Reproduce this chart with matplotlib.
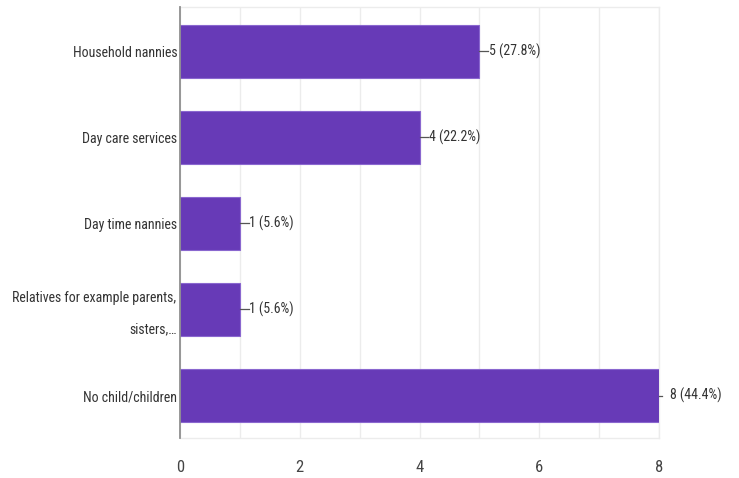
import matplotlib
matplotlib.use("Agg")
import matplotlib.pyplot as plt
from matplotlib.ticker import MultipleLocator

categories = ["Household nannies", "Day care services", "Day time nannies",
              "Relatives for example parents,\nsisters,…", "No child/children"]
counts = [5, 4, 1, 1, 8]
percents = ["27.8%", "22.2%", "5.6%", "5.6%", "44.4%"]
xticks = [0, 2, 4, 6, 8]

plt.rcParams['font.family'] = ['Roboto Condensed', 'Liberation Sans Narrow', 'Roboto', 'DejaVu Sans']

fig = plt.figure(figsize=(7.39, 4.78), dpi=100)
ax = fig.add_axes([180/739, 1 - 438/478, (659-180)/739, (438-7)/478])

ypos = list(range(len(categories)))
ax.barh(ypos, counts, height=0.62, color="#673ab7", edgecolor="#8a67cf", linewidth=0.8, zorder=3)

ax.set_xlim(0, 8)
ax.set_ylim(4.494, -0.517)
ax.set_yticks(ypos)
# multi-line labels are drawn as annotations so they can be nudged like the reference
ax.set_yticklabels(["" if "\n" in c else c for c in categories], fontsize=10, color="#333333")
for y, c in zip(ypos, categories):
    if "\n" in c:
        ax.annotate(c, xy=(0, y), xycoords=("axes fraction", "data"),
                    xytext=(-2.5, -3), textcoords="offset points",
                    ha="right", va="center", fontsize=10, color="#333333",
                    linespacing=2.5, annotation_clip=False)
ax.set_xticks(xticks)
ax.set_xticklabels([str(t) for t in xticks], fontsize=12, color="#444444")
ax.xaxis.set_minor_locator(MultipleLocator(1))
ax.grid(axis="x", which="both", color="#ececec", linewidth=1, zorder=0)
ax.tick_params(axis="both", which="both", length=0)
ax.tick_params(axis="x", pad=16)
ax.tick_params(axis="y", pad=2)

for s in ["top", "right", "bottom"]:
    ax.spines[s].set_color("#ececec")
    ax.spines[s].set_linewidth(1)
ax.spines["left"].set_color("#8f8f8f")
ax.spines["left"].set_linewidth(1.3)
ax.spines["left"].set_zorder(4)

for y, c, p in zip(ypos, counts, percents):
    if c < 8:
        ax.plot([c, c + 0.15], [y, y], color="#555555", linewidth=0.9, zorder=4, clip_on=False)
        ax.text(c + 0.16, y, f"{c} ({p})", va="center", ha="left", fontsize=10, color="#333333")
    else:
        ax.plot([c, c + 0.05], [y, y], color="#555555", linewidth=0.9, zorder=4, clip_on=False)
        ax.text(c + 0.18, y, f"{c} ({p})", va="center", ha="left", fontsize=10, color="#333333")

fig.savefig("out.png", dpi=100)
